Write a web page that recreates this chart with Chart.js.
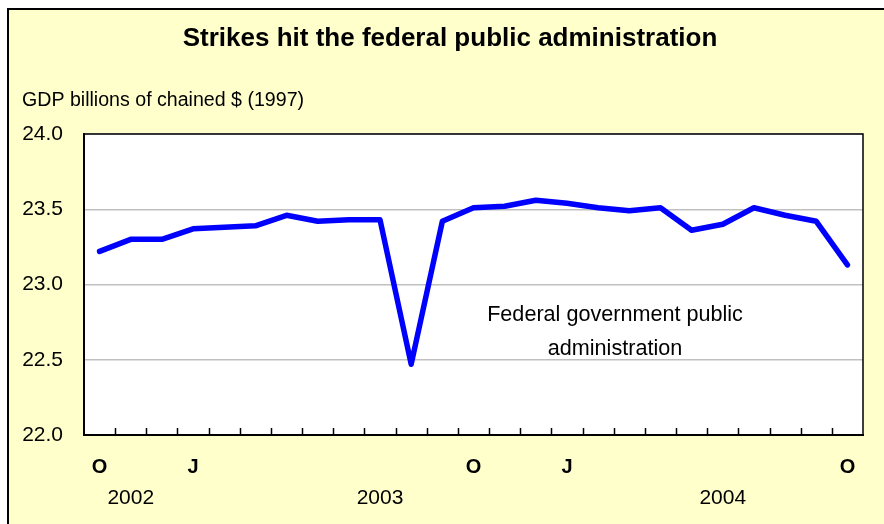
<!DOCTYPE html>
<html>
<head>
<meta charset="utf-8">
<title>Strikes hit the federal public administration</title>
<script src="https://cdn.jsdelivr.net/npm/chart.js@4"></script>
<style>
	body {margin:0; background:#fff; overflow:hidden; font-family:Arial, "Liberation Sans", sans-serif;}
	#frame {position:absolute; left:7px; top:8px; width:1000px; height:700px; border:2px solid #000; background:#ffffcc;}
	#wrap {position:absolute; left:0; top:0; width:884px; height:524px;}
</style>
</head>
<body>
<div id="frame"></div>
<div id="wrap"><canvas id="gdpChart" width="884" height="524"></canvas></div>
<script>
//月度数据 Oct 2002 - Oct 2004
var months = ['2002-10','2002-11','2002-12','2003-01','2003-02','2003-03','2003-04','2003-05','2003-06','2003-07','2003-08','2003-09','2003-10','2003-11','2003-12','2004-01','2004-02','2004-03','2004-04','2004-05','2004-06','2004-07','2004-08','2004-09','2004-10'];
var gdpValues = [23.22, 23.30, 23.30, 23.37, 23.38, 23.39, 23.46, 23.42, 23.43, 23.43, 22.47, 23.42, 23.51, 23.52, 23.56, 23.54, 23.51, 23.49, 23.51, 23.36, 23.40, 23.51, 23.46, 23.42, 23.13];
var monthTicks = ['O','','','J','','','','','','','','','O','','','J','','','','','','','','','O'];
var yearTicks = ['','2002','','','','','','','','2003','','','','','','','','','','','2004','','','',''];
var chartTitle = 'Strikes hit the federal public administration';
var yAxisTitle = 'GDP billions of chained $ (1997)';
var seriesNote = ['Federal government public', 'administration'];

var FONT = 'Arial, "Liberation Sans", sans-serif';

//plot background + frame, inward tick marks, and the free texts
var plotFrame = {
	id:'plotFrame',
	beforeDraw:function (chart) {
		var a = chart.chartArea, ctx = chart.ctx;
		ctx.save();
		ctx.fillStyle = '#fff';
		ctx.fillRect(a.left, a.top, a.right - a.left, a.bottom - a.top);
		ctx.restore();
	},
	beforeDatasetsDraw:function (chart) {
		var a = chart.chartArea, ctx = chart.ctx, x = chart.scales.x;
		ctx.save();
		ctx.strokeStyle = '#000';
		ctx.lineWidth = 1.5;
		ctx.strokeRect(a.left, a.top, a.right - a.left, a.bottom - a.top);
		ctx.beginPath();
		for (var i = 1; i < months.length; i++) {
			var px = Math.round(x.getPixelForValue(i - 0.5)) + 0.5;
			ctx.moveTo(px, a.bottom);
			ctx.lineTo(px, a.bottom - 7);
		}
		ctx.stroke();
		ctx.restore();
	},
	afterDraw:function (chart) {
		var ctx = chart.ctx;
		ctx.save();
		ctx.fillStyle = '#000';
		ctx.textBaseline = 'alphabetic';
		ctx.font = 'bold 26px ' + FONT;
		ctx.textAlign = 'center';
		ctx.fillText(chartTitle, 450, 46);
		ctx.font = '19.6px ' + FONT;
		ctx.textAlign = 'left';
		ctx.fillText(yAxisTitle, 22, 106);
		ctx.font = '21.6px ' + FONT;
		ctx.textAlign = 'center';
		ctx.fillText(seriesNote[0], 615, 321);
		ctx.fillText(seriesNote[1], 615, 355);
		ctx.restore();
	}
};

function DrawChart() {
	var ctx = document.getElementById('gdpChart').getContext('2d');
	new Chart(ctx, {
		type:'line',
		plugins:[plotFrame],
		data:{
			labels:months,
			datasets:[
				{
					label:'Federal government public administration',
					data:gdpValues,
					borderColor:'#0000ff',
					borderWidth:5.5,
					borderJoinStyle:'round',
					borderCapStyle:'round',
					pointRadius:0,
					tension:0
				}
			]
		},
		options:{
			responsive:false,
			animation:false,
			layout:{
				padding:{top:134, left:0, right:21, bottom:0}
			},
			plugins:{
				legend:{display:false},
				title:{display:false},
				tooltip:{enabled:false}
			},
			scales:{
				x:{
					type:'category',
					position:'bottom',
					weight:1,
					offset:true,
					grid:{display:false, drawTicks:false, tickLength:0},
					border:{color:'#000', width:2},
					ticks:{
						autoSkip:false,
						maxRotation:0,
						padding:20,
						color:'#000',
						font:{family:FONT, size:20, weight:'bold'},
						callback:function (v, i) { return monthTicks[i]; }
					},
					afterFit:function (s) { s.height = 48; }
				},
				x2:{
					type:'category',
					position:'bottom',
					weight:2,
					offset:true,
					labels:yearTicks,
					grid:{display:false, drawTicks:false, tickLength:0},
					border:{display:false},
					ticks:{
						autoSkip:false,
						maxRotation:0,
						padding:3,
						color:'#000',
						font:{family:FONT, size:21}
					},
					afterFit:function (s) { s.height = 41; }
				},
				y:{
					min:22,
					max:24,
					grid:{color:'#c0c0c0', lineWidth:1.5, drawTicks:false},
					border:{color:'#000', width:2},
					ticks:{
						stepSize:0.5,
						padding:21,
						color:'#000',
						font:{family:FONT, size:21},
						callback:function (v) { return v.toFixed(1); }
					},
					afterFit:function (s) { s.width = 84; }
				}
			}
		}
	});
}
DrawChart();
</script>
</body>
</html>
